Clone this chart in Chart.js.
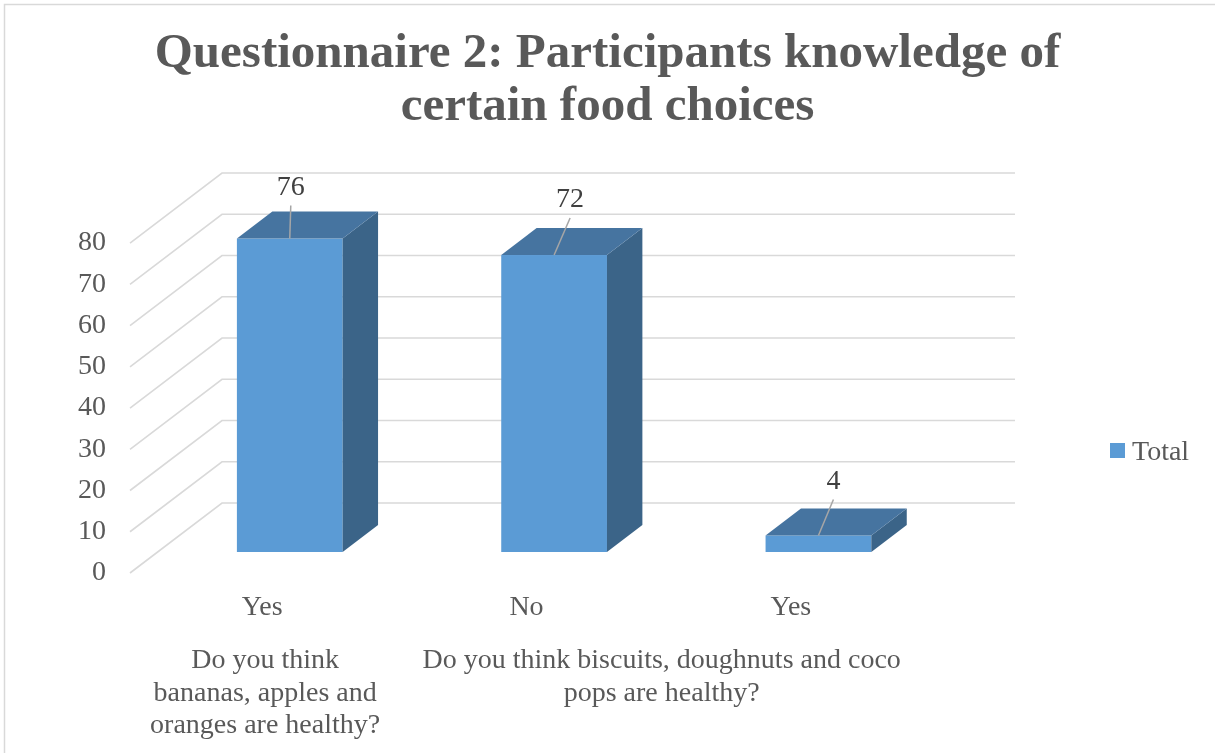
<!DOCTYPE html>
<html>
<head>
<meta charset="utf-8">
<title>Questionnaire 2</title>
<script src="https://cdn.jsdelivr.net/npm/chart.js@4.4.1/dist/chart.umd.min.js"></script>
<style>
  html, body { margin: 0; padding: 0; background: #fff; }
  #wrap { width: 1215px; height: 753px; }
</style>
</head>
<body>
<div id="wrap"><canvas id="chart"></canvas></div>
<script>
const answers = ["Yes", "No", "Yes"];
const totals = [76, 72, 4];
const yTicks = [0, 10, 20, 30, 40, 50, 60, 70, 80];
const questionLines = [
  ["Do you think", "bananas, apples and", "oranges are healthy?"],
  ["Do you think biscuits, doughnuts and coco", "pops are healthy?"],
];
const questionSpans = [[0, 0], [1, 2]];
const seriesName = "Total";

const SERIF = "'Liberation Serif', 'Times New Roman', serif";
const TEXT = "#595959";
const DEPTH = { dx: 92, dy: -70 };     // floor depth of the 3d box
const BAR_FRONT = 0.3, BAR_BACK = 0.685;
const FACE = { front: "#5b9bd5", top: "#4674a0", side: "#3b6488" };
// where each data label sits relative to the top front edge of its bar
const labelShift = [[1, -44], [16, -48], [15, -47]];

Chart.defaults.font.family = SERIF;
Chart.defaults.font.size = 28;
Chart.defaults.color = TEXT;

const box3d = {
  id: "box3d",
  beforeDraw(chart) {
    const { ctx } = chart;
    ctx.save();
    ctx.strokeStyle = "#d9d9d9";
    ctx.lineWidth = 1.5;
    ctx.strokeRect(4.5, 4.5, 1400, 1000);
    ctx.restore();
  },
  beforeDatasetsDraw(chart) {
    const { ctx, chartArea: a, scales: { y } } = chart;
    ctx.save();
    ctx.strokeStyle = "#d9d9d9";
    ctx.lineWidth = 1.6;
    y.ticks.forEach((t) => {
      const py = y.getPixelForValue(t.value);
      ctx.beginPath();
      ctx.moveTo(a.left, py);
      ctx.lineTo(a.left + DEPTH.dx, py + DEPTH.dy);
      ctx.lineTo(a.right + DEPTH.dx, py + DEPTH.dy);
      ctx.stroke();
    });
    ctx.restore();
  },
  afterDatasetsDraw(chart) {
    const { ctx } = chart;
    const meta = chart.getDatasetMeta(0);
    const fx = DEPTH.dx * BAR_FRONT, fy = DEPTH.dy * BAR_FRONT;
    const ox = DEPTH.dx * (BAR_BACK - BAR_FRONT), oy = DEPTH.dy * (BAR_BACK - BAR_FRONT);
    ctx.save();
    meta.data.forEach((bar, i) => {
      const { x, y, base, width } = bar.getProps(["x", "y", "base", "width"], true);
      const l = x - width / 2 + fx, r = x + width / 2 + fx;
      const top = y + fy, bot = base + fy;

      ctx.fillStyle = FACE.front;
      ctx.fillRect(l, top, r - l, bot - top);

      ctx.fillStyle = FACE.side;
      ctx.beginPath();
      ctx.moveTo(r, top);
      ctx.lineTo(r + ox, top + oy);
      ctx.lineTo(r + ox, bot + oy);
      ctx.lineTo(r, bot);
      ctx.closePath();
      ctx.fill();

      ctx.fillStyle = FACE.top;
      ctx.beginPath();
      ctx.moveTo(l, top);
      ctx.lineTo(l + ox, top + oy);
      ctx.lineTo(r + ox, top + oy);
      ctx.lineTo(r, top);
      ctx.closePath();
      ctx.fill();

      // data label with leader line
      const ax = x + fx, ay = top;
      const lx = ax + labelShift[i][0], ly = ay + labelShift[i][1];
      ctx.strokeStyle = "#a6a6a6";
      ctx.lineWidth = 1.5;
      ctx.beginPath();
      ctx.moveTo(lx, ly + 11);
      ctx.lineTo(ax, ay);
      ctx.stroke();
      ctx.fillStyle = "#404040";
      ctx.font = "28px " + SERIF;
      ctx.textAlign = "center";
      ctx.textBaseline = "alphabetic";
      ctx.fillText(String(chart.data.datasets[0].data[i]), lx, ly);
    });
    ctx.restore();
  },
  afterDraw(chart) {
    const { ctx, chartArea: a, scales: { x } } = chart;
    ctx.save();
    ctx.fillStyle = TEXT;
    ctx.font = "28px " + SERIF;
    ctx.textAlign = "center";
    ctx.textBaseline = "alphabetic";
    questionLines.forEach((lines, g) => {
      const [from, to] = questionSpans[g];
      const cx = (x.getPixelForValue(from) + x.getPixelForValue(to)) / 2;
      lines.forEach((txt, k) => ctx.fillText(txt, cx + 3, a.bottom + 95 + k * 32.5));
    });
    // legend
    ctx.fillStyle = FACE.front;
    ctx.fillRect(1110, 443, 15, 15);
    ctx.fillStyle = TEXT;
    ctx.textAlign = "left";
    ctx.fillText(seriesName, 1132, 460);
    ctx.restore();
  },
};

new Chart(document.getElementById("chart"), {
  type: "bar",
  data: {
    labels: answers,
    datasets: [{
      label: seriesName,
      data: totals,
      backgroundColor: "rgba(0,0,0,0)",
      categoryPercentage: 1,
      barPercentage: 0.4,
    }],
  },
  options: {
    responsive: true,
    maintainAspectRatio: false,
    animation: false,
    layout: { padding: 0 },
    plugins: {
      legend: { display: false },
      tooltip: { enabled: false },
      title: {
        display: true,
        text: ["Questionnaire 2: Participants knowledge of", "certain food choices"],
        color: TEXT,
        font: { family: SERIF, size: 49, weight: "bold", lineHeight: 1.082 },
        padding: { top: 28, bottom: 109 },
      },
    },
    scales: {
      x: {
        grid: { display: false, drawTicks: false },
        border: { display: false },
        ticks: { padding: 18, maxRotation: 0, autoSkip: false },
        afterFit: (s) => { s.height = 180; },
      },
      y: {
        min: 0,
        max: 80,
        grid: { display: false, drawTicks: false },
        border: { display: false },
        ticks: { padding: 24 },
        afterBuildTicks: (s) => { s.ticks = yTicks.map((v) => ({ value: v })); },
        afterFit: (s) => { s.width = 130; },
      },
      // empty right-hand band that keeps room for the legend
      side: {
        type: "linear",
        position: "right",
        display: true,
        grid: { display: false, drawTicks: false },
        border: { display: false },
        ticks: { display: false },
        afterFit: (s) => { s.width = 292; },
      },
    },
  },
  plugins: [box3d],
});
</script>
</body>
</html>
